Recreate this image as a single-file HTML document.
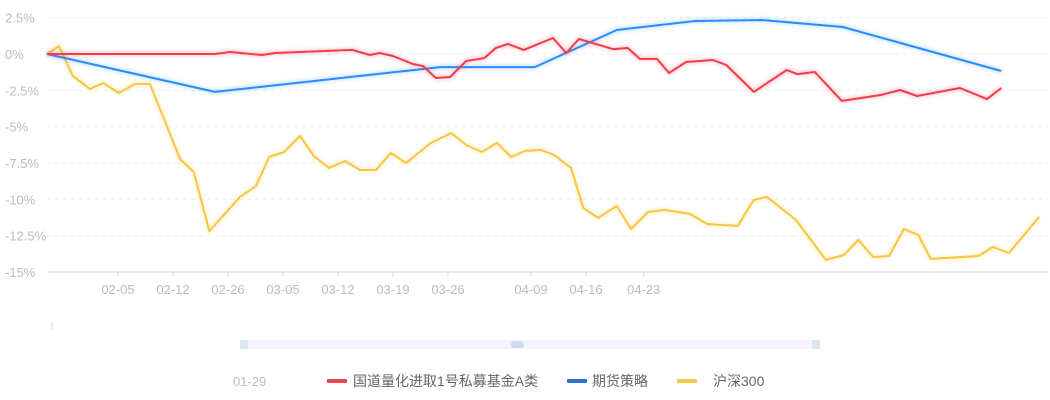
<!DOCTYPE html>
<html><head><meta charset="utf-8">
<style>
html,body{margin:0;padding:0;background:#fff;width:1050px;height:400px;overflow:hidden}
svg{display:block;font-family:"Liberation Sans","Noto Sans CJK SC",sans-serif}
</style></head>
<body>
<svg id="chart" width="1050" height="400">
<defs>
<filter id="glow" x="-5%" y="-20%" width="110%" height="140%"><feGaussianBlur stdDeviation="2"/></filter>
</defs>
<g id="grid"></g>
<g id="yaxis"></g>
<g id="xaxis"></g>
<g id="series"></g>
<text x="51" y="328" font-size="8" fill="#ccc">|</text>
<g>
<rect x="240" y="340" width="580" height="9" fill="#f3f5fb"/>
<rect x="240" y="340" width="8" height="9" fill="#dde6f5"/>
<rect x="812" y="340" width="8" height="9" fill="#dde6f5"/>
<rect x="511" y="341" width="13" height="7" rx="3" fill="#cfdcf0"/>
</g>
<g font-size="14">
<text x="233" y="386" font-size="13" fill="#b9bcc4">01-29</text>
<g><rect x="327" y="379" width="20" height="4" rx="1" fill="#ee4351"/><text x="353" y="386" fill="#666">国道量化进取1号私募基金A类</text></g>
<g><rect x="567" y="379" width="20" height="4" rx="1" fill="#2f6fd2"/><text x="592" y="386" fill="#666">期货策略</text></g>
<g><rect x="677" y="379" width="20" height="4" rx="1" fill="#f7c749"/><text x="713" y="386" fill="#666">沪深300</text></g>
</g>
</svg>
<script>
const yTicks=[2.5,0,-2.5,-5,-7.5,-10,-12.5,-15];
const yTickLabels=["2.5%","0%","-2.5%","-5%","-7.5%","-10%","-12.5%","-15%"];
const xTickPos=[12.9,22.9,32.9,42.9,52.9,62.9,72.9,88,98,108.5];
const xTickLabels=["02-05","02-12","02-26","03-05","03-12","03-19","03-26","04-09","04-16","04-23"];
const fundX=[0,30.5,33.3,39.1,41.5,55.5,58.7,60.5,62.9,66.5,68.4,70.7,73.3,76.2,79.5,81.6,83.8,86.7,92,94.4,96.7,102.9,105.6,107.8,110.9,113.1,116.2,121.1,123.5,128.5,134.5,136.4,139.6,144.5,151.6,155.1,158.2,166,170.9,173.5];
const fundY=[0,0,0.14,-0.07,0.07,0.28,-0.07,0.07,-0.14,-0.69,-0.83,-1.65,-1.58,-0.48,-0.28,0.41,0.69,0.28,1.1,0.07,1.03,0.34,0.41,-0.34,-0.34,-1.31,-0.55,-0.41,-0.76,-2.61,-1.1,-1.38,-1.24,-3.23,-2.82,-2.48,-2.89,-2.34,-3.1,-2.34];
const futX=[0,30.5,71.5,88.7,103.6,117.8,130,144.7,173.5];
const futY=[0,-2.61,-0.9,-0.9,1.65,2.27,2.34,1.86,-1.17];
const csiX=[0,2.2,4.7,7.8,10.2,13.1,16,18.7,24.2,26.7,29.5,35.1,38,40.4,43.1,46,48.5,51.3,54.2,56.9,59.8,62.5,65.3,69.8,73.5,76.2,79.1,81.8,84.4,86.9,89.8,92.2,95.3,97.5,100.2,103.6,106.2,109.3,112.2,116.9,120,122.4,125.6,128.5,130.9,136.2,141.6,144.9,147.5,150.2,153.1,155.8,158.4,160.7,169.3,172,174.9,180.4];
const csiY=[0,0.55,-1.51,-2.41,-2.0,-2.68,-2.06,-2.06,-7.23,-8.12,-12.18,-9.84,-9.08,-7.09,-6.74,-5.64,-7.02,-7.84,-7.36,-7.98,-7.98,-6.81,-7.5,-6.12,-5.44,-6.26,-6.74,-6.12,-7.09,-6.67,-6.6,-6.95,-7.84,-10.6,-11.28,-10.46,-12.04,-10.87,-10.73,-11.0,-11.7,-11.76,-11.83,-10.04,-9.84,-11.42,-14.17,-13.83,-12.8,-13.97,-13.9,-12.04,-12.45,-14.1,-13.9,-13.28,-13.69,-11.21];

const NS="http://www.w3.org/2000/svg";
const X0=47,X1=1048,XMAX=182,Y0=54,YB=272;
function sx(v){return X0+v*(X1-X0)/XMAX;}
function sy(v){return Y0-v*(YB-Y0)/15;}
function mk(t,a,p){const e=document.createElementNS(NS,t);for(const k in a)e.setAttribute(k,a[k]);p.appendChild(e);return e;}
const grid=document.getElementById('grid'),ya=document.getElementById('yaxis'),xa=document.getElementById('xaxis'),ser=document.getElementById('series');
yTicks.forEach((v,i)=>{
  const y=sy(v);
  if(v>-15){const l=mk('line',{x1:X0,x2:X1,y1:y,y2:y,stroke:'#eceef2','stroke-dasharray':'4,4'},grid);
  
  }
  const t=mk('text',{x:5,y:y+5,'font-size':13,fill:'#b9bcc4'},ya);t.textContent=yTickLabels[i];
  
  
});
const ax=mk('line',{x1:X0,x2:X1,y1:YB,y2:YB,stroke:'#cfd8ea','stroke-width':1},xa);


xTickPos.forEach((p,i)=>{
  const x=sx(p);
  const tk=mk('line',{x1:x,x2:x,y1:YB,y2:YB+5,stroke:'#cfd8ea'},xa);
  
  
  const t=mk('text',{x:x,y:YB+22,'font-size':13,fill:'#b9bcc4','text-anchor':'middle'},xa);t.textContent=xTickLabels[i];
  
  
});
function draw(xs,ys,color,name){
  const d=xs.map((x,i)=>(i?'L':'M')+sx(x).toFixed(1)+','+sy(ys[i]).toFixed(1)).join('');
  const g=mk('path',{d:d,fill:'none',stroke:color,'stroke-width':3,opacity:0.35,filter:'url(#glow)'},ser);
  
  
  const p=mk('path',{d:d,fill:'none',stroke:color,'stroke-width':2,'stroke-linejoin':'round'},ser);
  
  
}
draw(csiX,csiY,'#f9c640','csi300-line');
draw(futX,futY,'#2a8cff','futures-strategy-line');
draw(fundX,fundY,'#f43d4c','fund-line');
</script>
</body></html>
